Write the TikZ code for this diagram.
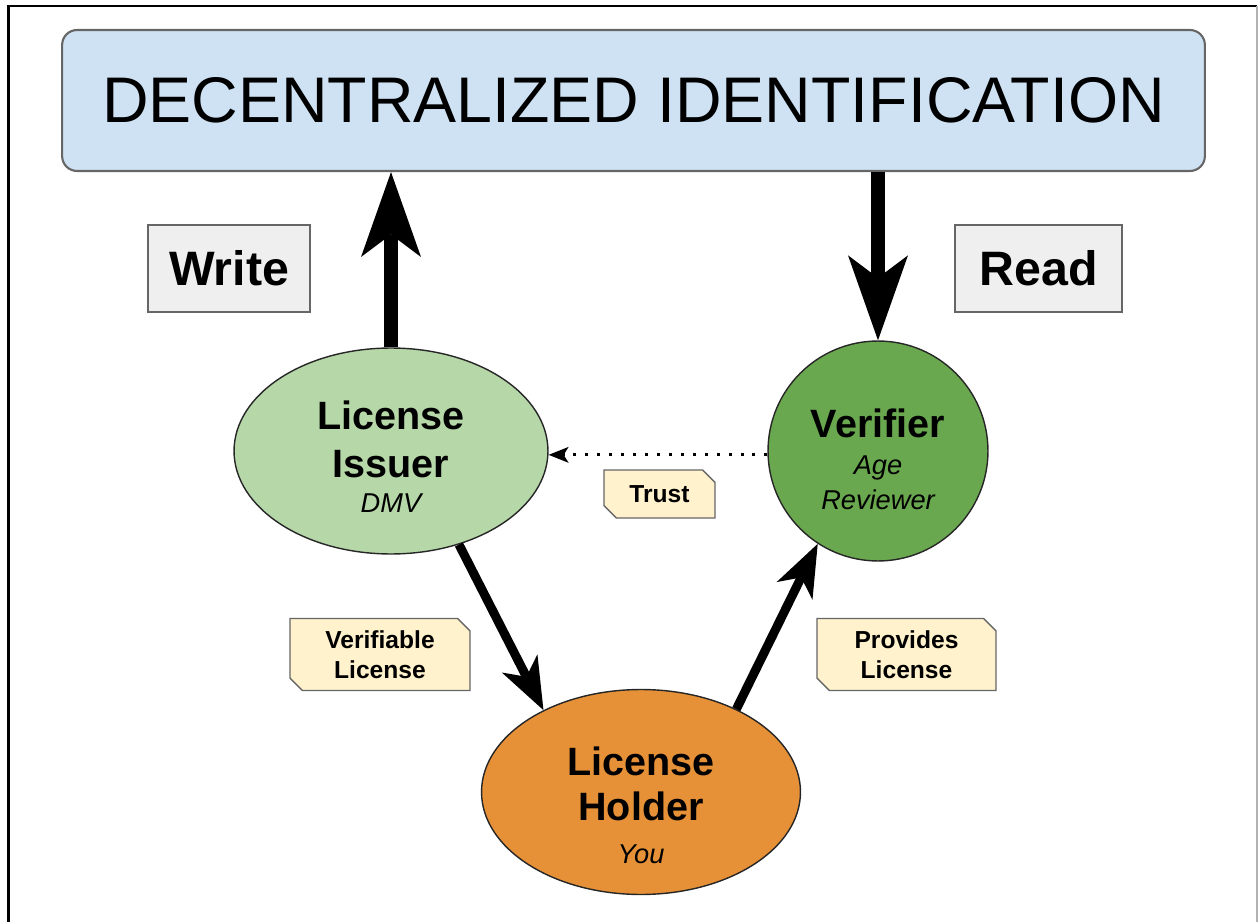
\documentclass[tikz,border=0pt]{standalone}
\usepackage{fontspec}
\setmainfont{Liberation Sans}
\usetikzlibrary{arrows.meta,positioning,shapes.geometric,shapes.misc}
\definecolor{bannerblue}{HTML}{CFE2F3}
\definecolor{boxgrey}{HTML}{EFEFEF}
\definecolor{edgegrey}{HTML}{666666}
\definecolor{issuergreen}{HTML}{B6D7A8}
\definecolor{verifgreen}{HTML}{6AA84F}
\definecolor{holderorange}{HTML}{E69138}
\definecolor{tagyellow}{HTML}{FFF2CC}
\tikzset{
  banner/.style={draw=edgegrey, fill=bannerblue, line width=1.2pt, rounded corners=8.5pt,
    minimum width=22.86cm, minimum height=2.82cm, font=\fontsize{36.7}{44}\selectfont},
  box/.style={draw=edgegrey, fill=boxgrey, line width=0.9pt, minimum height=1.74cm,
    font=\fontsize{27.5}{33}\selectfont\bfseries},
  party/.style={ellipse, draw=black!85, line width=0.8pt, inner sep=0pt},
  partytxt/.style={align=center, inner sep=0pt, font=\fontsize{15.5}{20}\selectfont\itshape},
  tag/.style={chamfered rectangle, chamfered rectangle corners={north east,south west},
    chamfered rectangle sep=3.5pt, draw=edgegrey, fill=tagyellow, line width=0.8pt,
    align=center, font=\fontsize{14}{17}\selectfont\bfseries},
  bigfl/.style={-{Stealth[length=1.7cm, width=1.2cm, inset=0.45cm, line width=0pt]}, line width=0.28cm},
  fl/.style={-{Stealth[length=1.05cm, width=0.8cm, inset=0.3cm, line width=0pt]}, line width=0.18cm},
  trustfl/.style={-{Stealth[length=0.4cm, width=0.32cm, inset=0.1cm, line width=0pt]},
    line width=1.7pt, dash pattern=on 1.7pt off 5.1pt},
}
\newcommand{\partyname}[1]{{\fontsize{22.5}{27}\selectfont\bfseries\upshape #1}}

\begin{document}
\begin{tikzpicture}[x=0.02cm, y=-0.02cm]
  \useasboundingbox (0,0) rectangle (1258,922);
  % ---- outer frame (open at the bottom) ----
  \draw[line width=1.7pt] (8.5,922) -- (8.5,6) -- (1257,6);
  \draw[edgegrey!50, line width=1pt] (1257,6) -- (1257,922);

  % ---- ledger banner + write/read ----
  \node[banner] (ident) at (633.5,100.5) {DECENTRALIZED IDENTIFICATION};
  \node[box, minimum width=3.24cm] (write) at (229,268.5) {Write};
  \node[box, minimum width=3.34cm] (read) at (1038.5,268.5) {Read};

  % ---- the three parties ----
  \node[party, fill=issuergreen, minimum width=6.28cm, minimum height=4.12cm] (issuer) at (391,451) {};
  \node[party, fill=verifgreen, minimum width=4.4cm, minimum height=4.4cm] (verifier) at (878,451) {};
  \node[party, fill=holderorange, minimum width=6.38cm, minimum height=4.1cm] (holder) at (641,792) {};
  \node[partytxt] (issuertxt) at (391,457) {\partyname{License}\\[7.3pt]\partyname{Issuer}\\DMV};
  \node[partytxt] (verifiertxt) at (878,459) {\partyname{Verifier}\\[1pt]Age\\Reviewer};
  \node[partytxt] (holdertxt) at (641,805) {\partyname{License}\\[6pt]\partyname{Holder}\\[4pt]You};

  % ---- flow tags ----
  \node[tag, minimum width=2.22cm, minimum height=0.96cm] (trust) at (659.5,494) {Trust};
  \node[tag, minimum width=3.6cm, minimum height=1.3cm] (vlic) at (380,654.5) {Verifiable\\License};
  \node[tag, minimum width=3.58cm, minimum height=1.3cm] (plic) at (906.5,654.5) {Provides\\License};

  % ---- connectors ----
  \draw[bigfl] (issuer.north) -- (issuer.north |- ident.south);
  \draw[bigfl] (verifier.north |- ident.south) -- (verifier.north);
  \draw[fl] (issuer.-54) -- (holder.140);
  \draw[fl] (holder.41) -- (verifier.-123);
  \draw[trustfl] (verifier.182.5) -- (verifier.182.5 -| issuer.east);
\end{tikzpicture}
\end{document}
